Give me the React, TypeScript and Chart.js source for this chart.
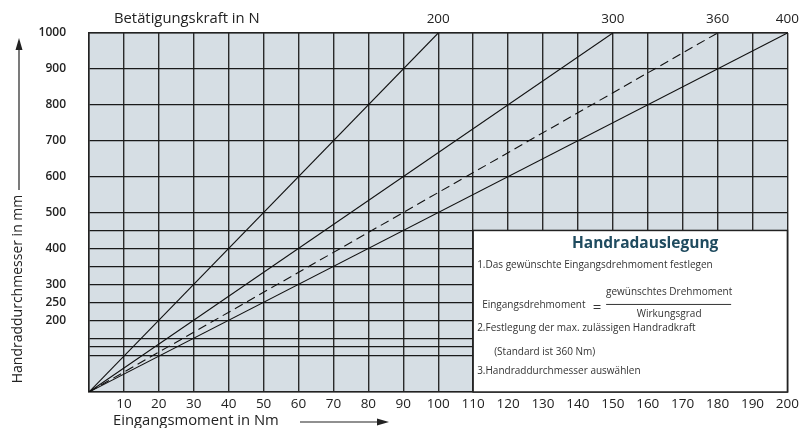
import React, { useEffect, useRef } from 'react';
import { Chart, registerables } from 'chart.js';

Chart.register(...registerables);

// ---- data ----
const forceLabels = ['200', '300', '360', '400']; // Betätigungskraft in N
const torqueAtMaxDiameter = [100, 150, 180, 200]; // Nm at 1000 mm
const dashedLines = [false, false, true, false];
const maxDiameter = 1000;
const xTickValues = [0, 10, 20, 30, 40, 50, 60, 70, 80, 90, 100, 110, 120, 130, 140, 150, 160, 170, 180, 190, 200];
const yGridValues = [0, 100, 125, 150, 200, 250, 300, 350, 400, 450, 500, 600, 700, 800, 900, 1000];
const yLabelValues = [200, 250, 300, 400, 500, 600, 700, 800, 900, 1000];
const boxRange = { xMin: 110, xMax: 200, yMin: 0, yMax: 450 };

const FONT = '"Open Sans", "Noto Sans", sans-serif';

const bgPlugin = {
  id: 'bgPlugin',
  beforeDraw(chart: any) {
    const { ctx, chartArea } = chart;
    ctx.save();
    ctx.fillStyle = '#d6dee4';
    ctx.fillRect(chartArea.left, chartArea.top, chartArea.right - chartArea.left, chartArea.bottom - chartArea.top);
    ctx.restore();
  },
};

const overlayPlugin = {
  id: 'overlayPlugin',
  afterDatasetsDraw(chart: any) {
    const { ctx } = chart;
    const xs = chart.scales.x;
    const ys = chart.scales.y;
    const bx = xs.getPixelForValue(boxRange.xMin);
    const bR = xs.getPixelForValue(boxRange.xMax);
    const by = ys.getPixelForValue(boxRange.yMax);
    const bB = ys.getPixelForValue(boxRange.yMin);
    ctx.save();
    ctx.fillStyle = '#ffffff';
    ctx.fillRect(bx, by, bR - bx, bB - by);
    ctx.strokeStyle = '#222222';
    ctx.lineWidth = 1.5;
    ctx.strokeRect(bx, by, bR - bx, bB - by);

    ctx.textBaseline = 'middle';
    ctx.fillStyle = '#1f4b5f';
    ctx.font = `bold 15.5px ${FONT}`;
    ctx.textAlign = 'center';
    ctx.fillText('Handradauslegung', bx + 172, by + 13);

    ctx.fillStyle = '#333333';
    ctx.font = `10px ${FONT}`;
    ctx.textAlign = 'left';
    ctx.fillText('1.Das gewünschte Eingangsdrehmoment festlegen', bx + 4, by + 35);
    ctx.fillText('Eingangsdrehmoment', bx + 9, by + 75);
    ctx.textAlign = 'center';
    ctx.fillText('gewünschtes Drehmoment', bx + 196, by + 62);
    ctx.fillText('Wirkungsgrad', bx + 196, by + 84);
    ctx.font = `15px ${FONT}`;
    ctx.fillText('=', bx + 124, by + 77);
    ctx.strokeStyle = '#333333';
    ctx.lineWidth = 1;
    ctx.beginPath();
    ctx.moveTo(bx + 133, by + 74);
    ctx.lineTo(bx + 258, by + 74);
    ctx.stroke();
    ctx.font = `10px ${FONT}`;
    ctx.textAlign = 'left';
    ctx.fillText('2.Festlegung der max. zulässigen Handradkraft', bx + 4, by + 98);
    ctx.fillText('(Standard ist 360 Nm)', bx + 21, by + 122);
    ctx.fillText('3.Handraddurchmesser auswählen', bx + 4, by + 141);
    ctx.restore();
  },
  afterDraw(chart: any) {
    const { ctx } = chart;
    ctx.save();
    ctx.fillStyle = '#222222';
    ctx.strokeStyle = '#222222';
    ctx.textBaseline = 'middle';
    // top title
    ctx.font = `14.8px ${FONT}`;
    ctx.textAlign = 'left';
    ctx.fillText('Betätigungskraft in N', 114, 19);
    // bottom title
    ctx.font = `14.8px ${FONT}`;
    ctx.fillText('Eingangsmoment in Nm', 113, 421);
    ctx.lineWidth = 1.2;
    ctx.beginPath();
    ctx.moveTo(300, 422);
    ctx.lineTo(380, 422);
    ctx.stroke();
    ctx.beginPath();
    ctx.moveTo(389, 422);
    ctx.lineTo(377, 418.5);
    ctx.lineTo(377, 425.5);
    ctx.closePath();
    ctx.fill();
    // left title
    ctx.save();
    ctx.translate(18, 289);
    ctx.rotate(-Math.PI / 2);
    ctx.textAlign = 'center';
    ctx.font = `14px ${FONT}`;
    ctx.fillText('Handraddurchmesser in mm', 0, 0);
    ctx.restore();
    ctx.beginPath();
    ctx.moveTo(19, 190);
    ctx.lineTo(19, 48);
    ctx.stroke();
    ctx.beginPath();
    ctx.moveTo(19, 38);
    ctx.lineTo(15.5, 50);
    ctx.lineTo(22.5, 50);
    ctx.closePath();
    ctx.fill();
    ctx.restore();
  },
};

export default function App() {
  const canvasRef = useRef<HTMLCanvasElement | null>(null);

  useEffect(() => {
    if (!canvasRef.current) return;
    const datasets = forceLabels.map((label, i) => ({
      label: `${label} N`,
      data: [
        { x: 0, y: 0 },
        { x: torqueAtMaxDiameter[i], y: maxDiameter },
      ],
      showLine: true,
      borderColor: '#111111',
      borderWidth: 1.1,
      borderDash: dashedLines[i] ? [9, 5] : [],
      pointRadius: 0,
      fill: false,
      xAxisID: 'x',
      yAxisID: 'y',
    }));

    const chart = new Chart(canvasRef.current, {
      type: 'scatter',
      data: { datasets },
      plugins: [bgPlugin, overlayPlugin],
      options: {
        animation: false,
        responsive: true,
        maintainAspectRatio: false,
        layout: { padding: { left: 0, right: 16, top: 0, bottom: 0 } },
        plugins: { legend: { display: false }, tooltip: { enabled: false }, title: { display: false } },
        scales: {
          x: {
            type: 'linear',
            position: 'bottom',
            min: 0,
            max: 200,
            afterBuildTicks: (s: any) => {
              s.ticks = xTickValues.map((v) => ({ value: v }));
            },
            afterFit: (s: any) => {
              s.height = 36;
            },
            ticks: {
              autoSkip: false,
              maxRotation: 0,
              padding: 4,
              color: '#222222',
              font: { family: FONT, size: 13.5 },
              callback: (v: any) => (v === 0 ? '' : String(v)),
            },
            grid: { color: '#2a2a2a', lineWidth: 1.4, drawTicks: false },
            border: { color: '#222222', width: 1.5 },
          },
          xTop: {
            type: 'linear',
            position: 'top',
            min: 0,
            max: 200,
            afterBuildTicks: (s: any) => {
              s.ticks = torqueAtMaxDiameter.map((v) => ({ value: v }));
            },
            afterFit: (s: any) => {
              s.height = 33;
            },
            ticks: {
              autoSkip: false,
              maxRotation: 0,
              padding: 6,
              color: '#222222',
              font: { family: FONT, size: 13.5 },
              callback: (v: any) => {
                const i = torqueAtMaxDiameter.indexOf(Number(v));
                return i >= 0 ? forceLabels[i] : '';
              },
            },
            grid: { display: false, drawTicks: false },
            border: { color: '#222222', width: 1.5 },
          },
          y: {
            type: 'linear',
            position: 'left',
            min: 0,
            max: 1000,
            afterBuildTicks: (s: any) => {
              s.ticks = yGridValues.map((v) => ({ value: v }));
            },
            afterFit: (s: any) => {
              s.width = 89;
            },
            ticks: {
              autoSkip: false,
              padding: 23,
              color: '#222222',
              font: { family: FONT, size: 12, weight: '600' },
              callback: (v: any) => (yLabelValues.includes(Number(v)) ? String(v) : ''),
            },
            grid: { color: '#1a1a1a', lineWidth: 1.3, drawTicks: false },
            border: { color: '#222222', width: 1.5 },
          },
        },
      } as any,
    });
    return () => chart.destroy();
  }, []);

  return (
    <div style={{ position: 'absolute', left: 0, top: 0, width: 805, height: 428, background: '#ffffff' }}>
      <canvas ref={canvasRef} />
    </div>
  );
}
